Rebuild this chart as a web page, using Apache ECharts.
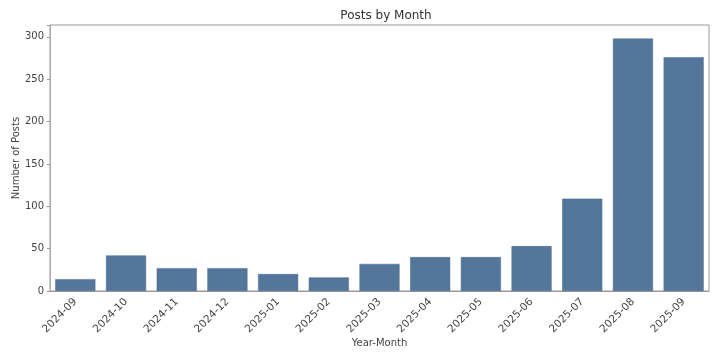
<!DOCTYPE html>
<html><head><meta charset="utf-8">
<script src="https://cdn.jsdelivr.net/npm/echarts@6/dist/echarts.min.js"></script>
<style>html,body{margin:0;padding:0;background:#fff}#c{width:720px;height:360px}</style>
</head><body><div id="c"></div>
<script>
const categories = ['2024-09','2024-10','2024-11','2024-12','2025-01','2025-02','2025-03','2025-04','2025-05','2025-06','2025-07','2025-08','2025-09'];
const posts = [14, 42, 27, 27, 20, 16, 32, 40, 40, 53, 109, 298, 276];
const yTicks = [0, 50, 100, 150, 200, 250, 300];

const chart = echarts.init(document.getElementById('c'), null, {renderer:'canvas'});
chart.setOption({
  animation: false,
  backgroundColor: '#fff',
  title: {text: 'Posts by Month', left: 381, top: 5, textAlign: 'center',
    textStyle: {fontFamily: 'DejaVu Sans', fontSize: 12, fontWeight: 'normal', color: '#333'}},
  grid: {left: 50, right: 11, top: 25, bottom: 69, show: true, borderColor: '#999', borderWidth: 1,
    containLabel: false, outerBoundsMode: 'none'},
  xAxis: {type: 'category', data: categories,
    name: 'Year-Month', nameLocation: 'middle', nameGap: 47, nameMoveOverlap: false,
    nameTextStyle: {fontFamily: 'DejaVu Sans', fontSize: 10, color: '#444'},
    axisLine: {lineStyle: {color: '#999'}},
    axisTick: {alignWithLabel: true, length: 3, lineStyle: {color: '#999'}},
    axisLabel: {rotate: 45, fontFamily: 'DejaVu Sans', fontSize: 10.5, color: '#444', margin: 9, interval: 0}},
  yAxis: {type: 'value', min: 0, max: 314, interval: 50,
    name: 'Number of Posts', nameLocation: 'middle', nameGap: 29, nameMoveOverlap: false,
    nameTextStyle: {fontFamily: 'DejaVu Sans', fontSize: 10, color: '#444'},
    axisLine: {show: true, lineStyle: {color: '#aaa'}},
    axisTick: {show: true, length: 3, lineStyle: {color: '#999'}},
    splitLine: {show: false},
    axisLabel: {fontFamily: 'DejaVu Sans', fontSize: 10, color: '#444', margin: 6,
      formatter: v => yTicks.includes(v) ? String(v) : ''}},
  series: [{type: 'bar', data: posts, barCategoryGap: '21%',
    itemStyle: {color: '#55769b', borderColor: '#46668c', borderWidth: 0.5}}]
});
</script></body></html>
